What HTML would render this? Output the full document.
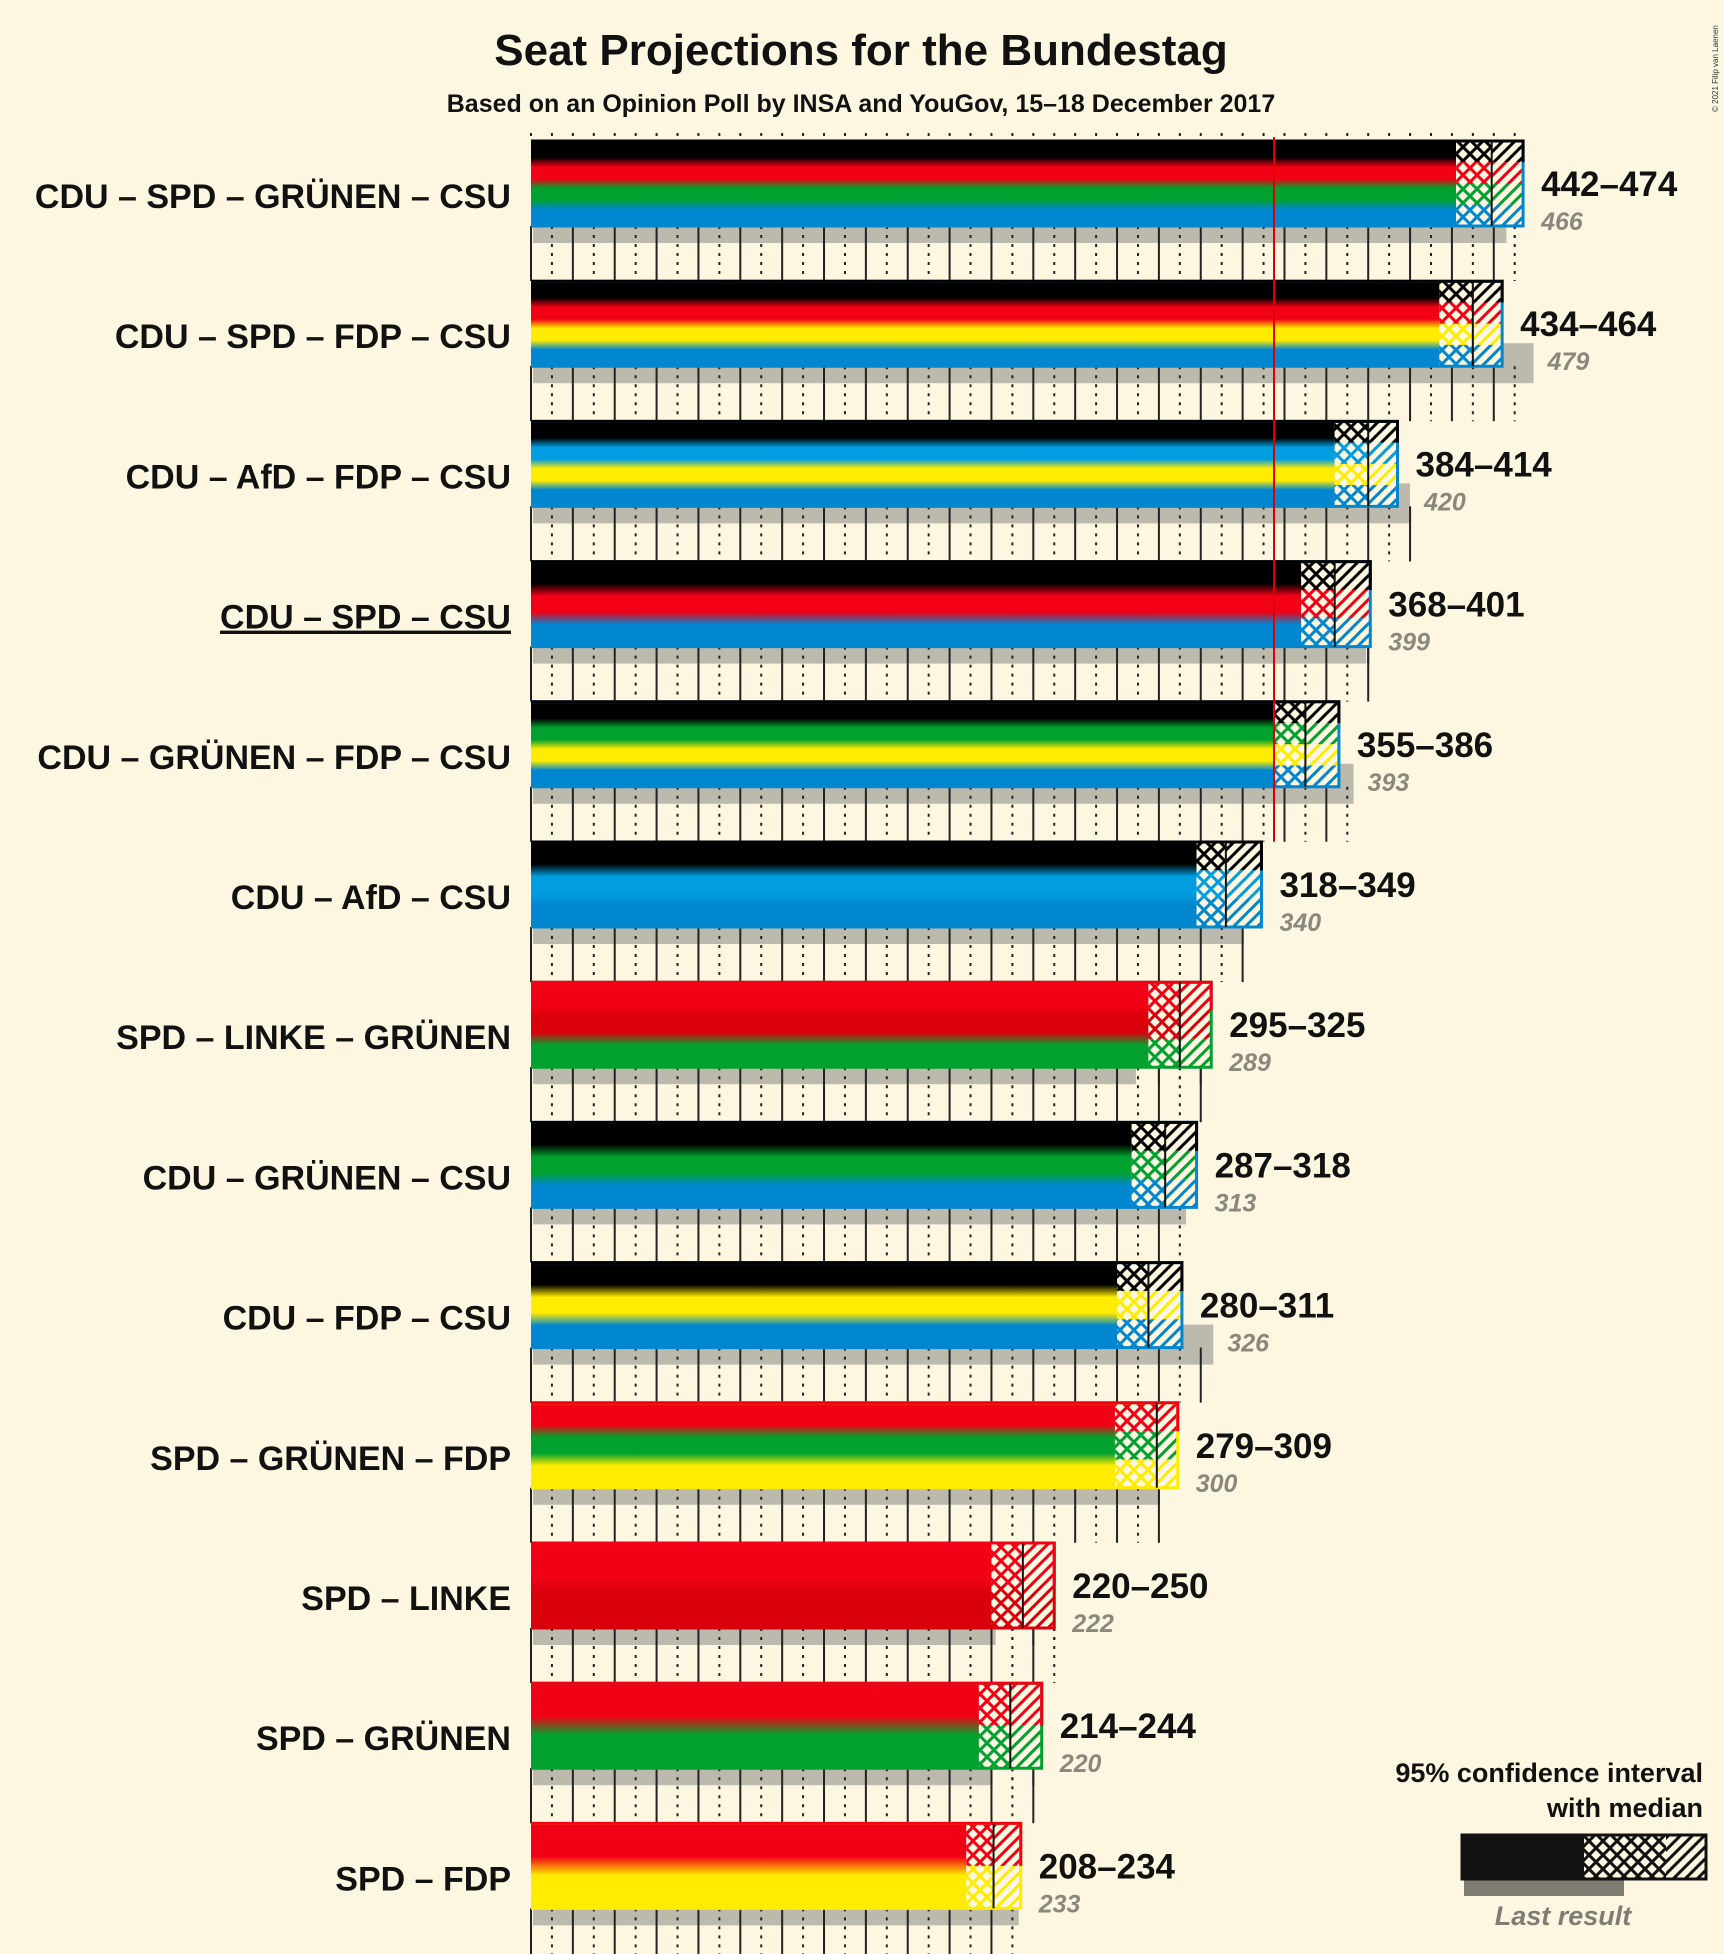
<!DOCTYPE html>
<html><head><meta charset="utf-8"><style>
html,body{margin:0;padding:0;background:#fdf7e2;}
svg{display:block;font-family:"Liberation Sans",sans-serif;}
</style></head><body>
<svg id="chart" width="1724" height="1954" viewBox="0 0 1724 1954" xmlns="http://www.w3.org/2000/svg">
<defs id="defs"></defs>
<rect width="1724" height="1954" fill="#fdf7e2"/>
<text x="861" y="65" text-anchor="middle" font-size="44" font-weight="bold" fill="#111">Seat Projections for the Bundestag</text>
<text x="861" y="112" text-anchor="middle" font-size="25" font-weight="bold" fill="#111">Based on an Opinion Poll by INSA and YouGov, 15–18 December 2017</text>
<text transform="translate(1718,112) rotate(-90)" font-size="8" fill="#333">© 2021 Filip van Laenen</text>
<g id="rows"></g>
<g id="legend">
<text x="1703" y="1782" text-anchor="end" font-size="27" font-weight="bold" fill="#111">95% confidence interval</text>
<text x="1703" y="1817" text-anchor="end" font-size="27" font-weight="bold" fill="#111">with median</text>
<rect x="1464" y="1872" width="160" height="24" fill="#7f7d73"/>
<rect x="1462" y="1835" width="122" height="44" fill="#111"/>
<rect x="1584" y="1835" width="82" height="44" fill="url(#cross-111)"/>
<rect x="1666" y="1835" width="40" height="44" fill="url(#diag-111)"/>
<rect x="1462" y="1835" width="244" height="44" fill="none" stroke="#111" stroke-width="3"/>
<text x="1563" y="1925" text-anchor="middle" font-size="27" font-style="italic" font-weight="bold" fill="#7f7d73">Last result</text>
</g>
</svg>
<script>
const coalitions=["CDU – SPD – GRÜNEN – CSU","CDU – SPD – FDP – CSU","CDU – AfD – FDP – CSU","CDU – SPD – CSU","CDU – GRÜNEN – FDP – CSU","CDU – AfD – CSU","SPD – LINKE – GRÜNEN","CDU – GRÜNEN – CSU","CDU – FDP – CSU","SPD – GRÜNEN – FDP","SPD – LINKE","SPD – GRÜNEN","SPD – FDP"];
const lows=[442,434,384,368,355,318,295,287,280,279,220,214,208];
const medians=[459,450,400,384,370,332,310,303,295,299,235,229,221];
const highs=[474,464,414,401,386,349,325,318,311,309,250,244,234];
const lastResults=[466,479,420,399,393,340,289,313,326,300,222,220,233];
const majority=355;
const partyColors={CDU:"#000000",SPD:"#f20015",GRÜNEN:"#00a12e",FDP:"#ffec00",CSU:"#0087d0",AfD:"#009ee0",LINKE:"#d9000c"};

const NS="http://www.w3.org/2000/svg";
const X0=531, PX=2.093, TOP0=141, STEP=140.2, BH=85;
const xs=v=>X0+v*PX;
const defs=document.getElementById('defs');
const rows=document.getElementById('rows');
function mk(tag,attrs,parent){const e=document.createElementNS(NS,tag);for(const k in attrs)e.setAttribute(k,attrs[k]);parent.appendChild(e);return e;}
const made={};
function patterns(c){
  const id=c.replace('#','');
  if(made[id])return id;made[id]=1;
  const p1=mk('pattern',{id:'cross-'+id,width:14,height:14,patternUnits:'userSpaceOnUse'},defs);
  mk('rect',{width:14,height:14,fill:'#fdf7e2'},p1);
  mk('path',{d:'M0 0L14 14M14 0L0 14',stroke:c,'stroke-width':3},p1);
  const p2=mk('pattern',{id:'diag-'+id,width:12,height:12,patternUnits:'userSpaceOnUse'},defs);
  mk('rect',{width:12,height:12,fill:'#fdf7e2'},p2);
  mk('path',{d:'M-3 15L15 -3M-3 3L3 -3M9 15L15 9',stroke:c,'stroke-width':3},p2);
  return id;
}
patterns('#111');

coalitions.forEach((name,i)=>{
  const top=TOP0+i*STEP, bot=top+BH;
  const g=mk('g',{},rows);
  
  
  const parties=name.split(' – ');
  const cols=parties.map(p=>partyColors[p]);
  const maxv=Math.max(highs[i],lastResults[i]);
  const tEnd=Math.floor(maxv/10)*10;
  for(let v=0;v<=tEnd;v+=10){
    const t=mk('line',{x1:xs(v),x2:xs(v),y1:bot,y2:bot+55,stroke:'#222','stroke-width':2,'stroke-dasharray':v%20===0?'none':'3 6'},g);
    
    
    if(i===0){
      const t2=mk('line',{x1:xs(v),x2:xs(v),y1:top-8,y2:top,stroke:'#222','stroke-width':2,'stroke-dasharray':'3 5'},g);
      
      
    }
  }
  const lr=mk('rect',{x:xs(0)+2,y:top+62,width:xs(lastResults[i])-xs(0)-2,height:40,fill:'#bcb9ad'},g);
  
  
  for(let v=0;v<=tEnd;v+=10){
    const t=mk('line',{x1:xs(v),x2:xs(v),y1:bot,y2:top+102,stroke:'#222','stroke-width':2,'stroke-dasharray':v%20===0?'none':'3 6'},g);
    
    
  }
  const n=cols.length;
  const gid='grad'+i;
  const lg=mk('linearGradient',{id:gid,x1:0,y1:0,x2:0,y2:1},defs);
  cols.forEach((c,k)=>{
    const a=k/n, b=(k+1)/n, m=0.22/n;
    mk('stop',{offset:(k===0?0:a+m),'stop-color':c},lg);
    mk('stop',{offset:(k===n-1?1:b-m),'stop-color':c},lg);
  });
  const sb=mk('rect',{x:xs(0),y:top,width:xs(lows[i])-xs(0),height:BH,fill:'url(#'+gid+')'},g);
  
  
  const bh=BH/n;
  cols.forEach((c,k)=>{
    const id=patterns(c);
    const r1=mk('rect',{x:xs(lows[i]),y:top+k*bh,width:xs(medians[i])-xs(lows[i]),height:bh,fill:'url(#cross-'+id+')'},g);
    
    
    const r2=mk('rect',{x:xs(medians[i]),y:top+k*bh,width:xs(highs[i])-xs(medians[i]),height:bh,fill:'url(#diag-'+id+')'},g);
    
    
  });
  const ol=mk('path',{d:`M${xs(0)} ${top}H${xs(highs[i])}V${bot}H${xs(0)}`,fill:'none',stroke:cols[n-1],'stroke-width':3},g);
  
  
  const ol2=mk('path',{d:`M${xs(0)} ${top}H${xs(highs[i])}V${top+bh}`,fill:'none',stroke:cols[0],'stroke-width':3},g);
  
  
  const ml=mk('line',{x1:xs(medians[i]),x2:xs(medians[i]),y1:top,y2:bot,stroke:'#111','stroke-width':2},g);
  
  
  const lab=mk('text',{x:511,y:top+67,'text-anchor':'end','font-size':34,'font-weight':'bold',fill:'#111'},g);
  lab.textContent=name;
  if(i===3){lab.setAttribute('text-decoration','underline');}
  
  
  const rl=mk('text',{x:xs(highs[i])+18,y:top+55,'font-size':35,'font-weight':'bold',fill:'#111'},g);
  rl.textContent=lows[i]+'–'+highs[i];
  
  
  const ll=mk('text',{x:Math.max(xs(highs[i])+18,xs(lastResults[i])+14),y:top+89,'font-size':25,'font-weight':'bold','font-style':'italic',fill:'#8a877c'},g);
  ll.textContent=lastResults[i];
  
  
});
const mj=mk('line',{x1:xs(majority),x2:xs(majority),y1:TOP0-4,y2:TOP0+4*STEP+BH+55,stroke:'#e00000','stroke-width':2},rows);


</script>
</body></html>
